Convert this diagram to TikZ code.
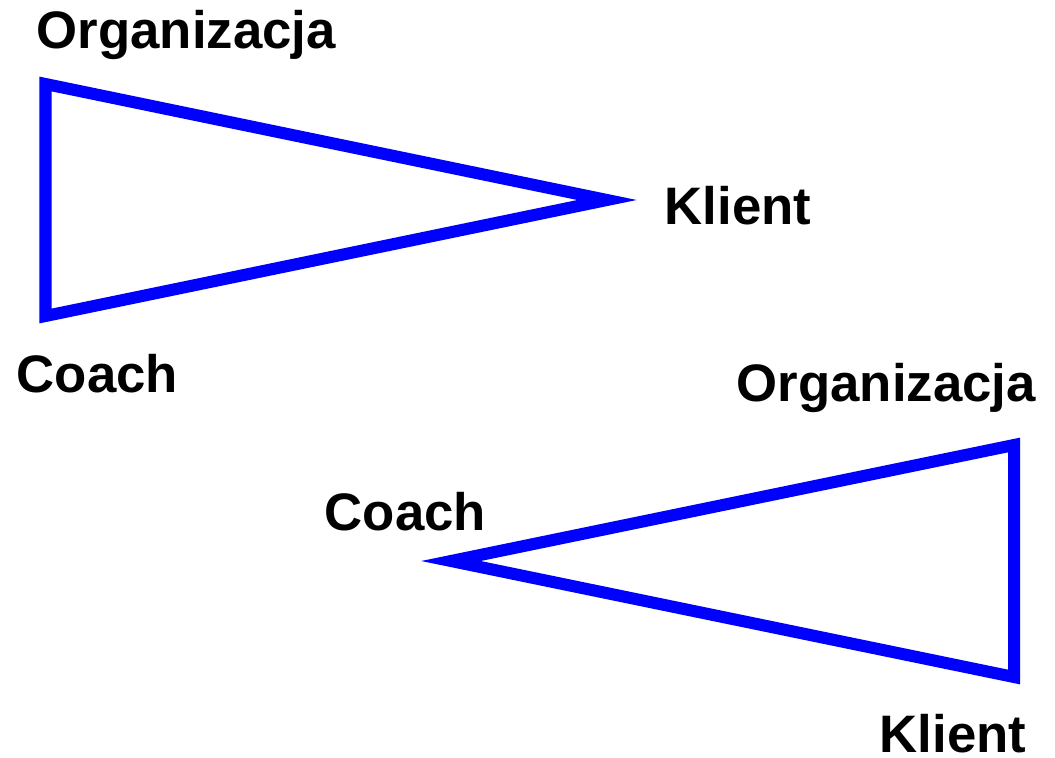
\documentclass[tikz,border=0pt]{standalone}
\usepackage{fontspec}
\setmainfont{Liberation Sans}
\usepackage{xcolor}

\begin{document}
\begin{tikzpicture}[x=0.01cm, y=-0.01cm,
 side/.style={line width=0.12cm, color=blue, line join=miter},
 vertexname/.style={anchor=base west, inner sep=0pt, font=\fontsize{15}{18}\selectfont\bfseries}]

\useasboundingbox (0,0) rectangle (1055,758);

% upper triangle
\coordinate (o1) at (45.5,84);
\coordinate (k1) at (607,200);
\coordinate (c1) at (45.5,316);
\draw[side] (o1) -- (k1) -- (c1) -- cycle;

\node[vertexname] (org1) at (36,49) {Organizacja};
\node[vertexname] (kli1) at (664,225) {Klient};
\node[vertexname] (coa1) at (16,393) {Coach};

% lower triangle
\coordinate (o2) at (1014,445);
\coordinate (k2) at (1014,677);
\coordinate (c2) at (451,561);
\draw[side] (c2) -- (o2) -- (k2) -- cycle;

\node[vertexname] (org2) at (736,401) {Organizacja};
\node[vertexname] (coa2) at (324,530) {Coach};
\node[vertexname] (kli2) at (879,752) {Klient};

\end{tikzpicture}
\end{document}
